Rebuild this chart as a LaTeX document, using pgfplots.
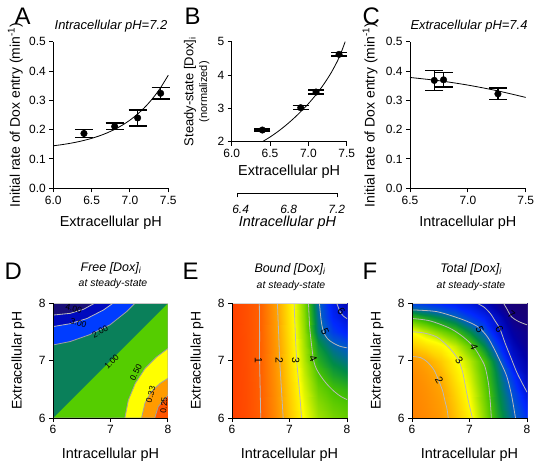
\documentclass[border=0pt]{standalone}
\usepackage{fontspec}
\setmainfont{Liberation Sans}
\usepackage{pgfplots}
\pgfplotsset{compat=1.18}

\definecolor{d0}{RGB}{255,85,0}
\definecolor{d1}{RGB}{255,155,0}
\definecolor{d2}{RGB}{255,255,0}
\definecolor{d3}{RGB}{85,205,0}
\definecolor{d4}{RGB}{10,128,90}
\definecolor{d5}{RGB}{0,60,255}
\definecolor{d6}{RGB}{0,10,190}
\definecolor{d7}{RGB}{25,15,120}
\definecolor{cline}{RGB}{160,160,160}
\definecolor{eline}{RGB}{185,185,185}

\pgfplotsset{
  colormap={ef}{rgb255(0cm)=(255,45,0); rgb255(1cm)=(255,95,0); rgb255(2cm)=(255,165,0);
    rgb255(3cm)=(255,255,0); rgb255(3.5cm)=(160,225,0); rgb255(4cm)=(70,195,0);
    rgb255(4.5cm)=(0,140,70); rgb255(5cm)=(0,90,200); rgb255(5.5cm)=(0,40,255);
    rgb255(6cm)=(0,20,210); rgb255(6.5cm)=(0,0,170); rgb255(7cm)=(20,0,130); rgb255(8cm)=(30,0,100)},
  panel/.style={
    scale only axis, anchor=south west,
    axis x line*=bottom, axis y line*=left,
    axis line style={line width=1bp, -},
    tick align=outside, major tick length=4bp,
    tick style={line width=1bp, black},
    tick label style={font=\fontsize{12}{14}\selectfont},
  },
  xlab/.style={every axis x label/.style={at={([yshift=-#1]axis description cs:0.5,0)}, anchor=center, font=\fontsize{14.5}{17}\selectfont}},
  ylab/.style={every axis y label/.style={at={([xshift=-#1]axis description cs:0,0.5)}, anchor=center, rotate=90, font=\fontsize{14}{17}\selectfont}},
  ebar/.style={black, only marks, mark=*, mark size=3.3bp, mark options={fill=black},
    error bars/.cd, y dir=both, y explicit,
    error bar style={line width=1.5bp, black},
    error mark options={rotate=90, mark size=#1, line width=1.5bp, black}},
}

\begin{document}
\begin{tikzpicture}
\path[use as bounding box] (0,0) rectangle (537bp,463bp);

% ---------------- Panel letters and titles
\begin{scope}[font=\fontsize{24}{28}\selectfont]
\node[anchor=base west] at (11bp,438bp) {A};
\node[anchor=base west] at (181bp,438bp) {B};
\node[anchor=base west] at (359bp,438bp) {C};
\node[anchor=base west] at (1bp,183bp) {D};
\node[anchor=base west] at (179bp,183bp) {E};
\node[anchor=base west] at (359bp,183bp) {F};
\end{scope}
\node[font=\fontsize{13}{15}\selectfont\itshape] at (111bp,437bp) {Intracellular pH=7.2};
\node[font=\fontsize{13}{15}\selectfont\itshape] at (469bp,437bp) {Extracellular pH=7.4};

\node[font=\fontsize{12.5}{15}\selectfont\itshape] at (111bp,195bp) {Free [Dox]\textsubscript{i}};
\node[font=\fontsize{10.5}{12}\selectfont\itshape] at (113bp,179bp) {at steady-state};
\node[font=\fontsize{12.5}{15}\selectfont\itshape] at (290bp,194bp) {Bound [Dox]\textsubscript{i}};
\node[font=\fontsize{10.5}{12}\selectfont\itshape] at (291bp,177bp) {at steady-state};
\node[font=\fontsize{12.5}{15}\selectfont\itshape] at (471bp,194bp) {Total [Dox]\textsubscript{i}};
\node[font=\fontsize{10.5}{12}\selectfont\itshape] at (471bp,177bp) {at steady-state};

% ---------------- A
\begin{axis}[panel, clip=false, at={(53.3bp,274.7bp)}, width=115bp, height=146.6bp,
  xmin=6, xmax=7.5, ymin=0, ymax=0.5,
  xtick={6,6.5,7,7.5}, xticklabels={6.0,6.5,7.0,7.5},
  ytick={0,0.1,0.2,0.3,0.4,0.5}, yticklabels={0.0,0.1,0.2,0.3,0.4,0.5},
  xlab=34bp, ylab=38bp,
  xlabel={Extracellular pH}, ylabel={Initial rate of Dox entry (min\textsuperscript{-1})}]
\addplot[black, line width=0.8bp, smooth] coordinates {
 (6.0,0.1450) (6.1,0.1484) (6.2,0.1525) (6.3,0.1574) (6.4,0.1633) (6.5,0.1703)
 (6.6,0.1787) (6.7,0.1888) (6.8,0.2009) (6.9,0.2153) (7.0,0.2326) (7.1,0.2533)
 (7.2,0.2781) (7.3,0.3078) (7.4,0.3434) (7.5,0.3859)};
\addplot[ebar=9bp] coordinates {
 (6.4,0.187) +- (0,0.013)
 (6.8,0.211) +- (0,0.011)
 (7.1,0.240) +- (0,0.027)
 (7.4,0.324) +- (0,0.020)};
\end{axis}

% ---------------- B
\begin{axis}[panel, clip=false, at={(231.7bp,321.3bp)}, width=115bp, height=100bp,
  xmin=6, xmax=7.5, ymin=2, ymax=5,
  xtick={6,6.5,7,7.5}, xticklabels={6.0,6.5,7.0,7.5},
  ytick={2,3,4,5}, yticklabels={2,3,4,5},
  xlab=30bp, ylab=35bp,
  xlabel={Extracellular pH},
  ylabel={{\fontsize{13}{15}\selectfont Steady-state [Dox]\textsubscript{i}}\\[-3pt]{\fontsize{11}{12}\selectfont (normalized)}},
  ylabel style={align=center}]
\addplot[black, line width=0.8bp, smooth] coordinates {
 (6.4,2.00) (6.5,2.14) (6.6,2.30) (6.7,2.48) (6.8,2.68) (6.9,2.90) (7.0,3.14)
 (7.1,3.41) (7.2,3.72) (7.3,4.08) (7.4,4.52) (7.48,5.0)};
\addplot[ebar=8bp] coordinates {
 (6.4,2.35) +- (0,0.03)
 (6.9,3.02) +- (0,0.06)
 (7.1,3.49) +- (0,0.06)
 (7.4,4.62) +- (0,0.05)};
\end{axis}

% secondary axis under B
\begin{axis}[scale only axis, anchor=south west, at={(237bp,269.7bp)}, width=101bp, height=10bp,
  xmin=6.37, xmax=7.21, ymin=0, ymax=1,
  axis x line*=bottom, hide y axis,
  axis line style={line width=1bp, -},
  xtick={6.4,6.8,7.2}, xticklabels={\itshape 6.4,\itshape 6.8,\itshape 7.2},
  major tick length=0pt,
  extra x ticks={6.37,7.21}, extra x tick labels={},
  extra x tick style={major tick length=4bp, tick align=outside, tick style={line width=1bp, black}},
  tick label style={font=\fontsize{12}{14}\selectfont},
  xticklabel style={yshift=-8bp},
  xlab=29bp,
  xlabel={\itshape Intracellular pH}]
\addplot[draw=none] coordinates {(6.5,0.5)};
\end{axis}

% ---------------- C
\begin{axis}[panel, clip=false, at={(410bp,274.7bp)}, width=115.7bp, height=146.6bp,
  xmin=6.5, xmax=7.5, ymin=0, ymax=0.5,
  xtick={6.5,7,7.5}, xticklabels={6.5,7.0,7.5},
  ytick={0,0.1,0.2,0.3,0.4,0.5}, yticklabels={0.0,0.1,0.2,0.3,0.4,0.5},
  xlab=34bp, ylab=40bp,
  xlabel={Intracellular pH}, ylabel={Initial rate of Dox entry (min\textsuperscript{-1})}]
\addplot[black, line width=0.8bp, smooth] coordinates {
 (6.5,0.378) (6.75,0.367) (7.0,0.352) (7.25,0.333) (7.5,0.310)};
\addplot[ebar=9bp] coordinates {
 (6.71,0.368) +- (0,0.034)
 (6.79,0.370) +- (0,0.025)
 (7.26,0.322) +- (0,0.020)};
\end{axis}

% ---------------- D
\begin{axis}[panel, at={(53bp,45bp)}, width=115bp, height=115bp,
  xmin=6, xmax=8, ymin=6, ymax=8, xtick={6,7,8}, ytick={6,7,8},
  xticklabels={6,7,8}, yticklabels={6,7,8},
  xlab=37bp, ylab=35bp, axis on top,
  xlabel={Intracellular pH}, ylabel={Extracellular pH}]
\addplot[draw=none, fill=d0] coordinates {(6,6) (8,6) (8,8) (6,8)};
\addplot[draw=cline, line width=0.8bp, fill=d1] coordinates {(6,6) (7.77,6) (7.83,6.20) (7.92,6.31) (8,6.40) (8,8) (6,8)};
\addplot[draw=cline, line width=0.8bp, fill=d2] coordinates {(6,6) (7.54,6) (7.60,6.26) (7.71,6.46) (7.86,6.60) (8,6.69) (8,8) (6,8)};
\addplot[draw=cline, line width=0.8bp, fill=d3] coordinates {(6,6) (7.25,6) (7.31,6.31) (7.43,6.60) (7.60,6.86) (7.80,7.06) (8,7.21) (8,8) (6,8)};
\addplot[draw=none, fill=d4] coordinates {(6,6) (8,8) (6,8)};
\addplot[draw=cline, line width=0.8bp, fill=d5] coordinates {(6,7.27) (6.30,7.33) (6.64,7.45) (6.99,7.62) (7.28,7.85) (7.43,8) (6,8)};
\addplot[draw=cline!70!white, line width=0.8bp, fill=d6] coordinates {(6,7.59) (6.30,7.64) (6.59,7.73) (6.88,7.88) (7.05,8) (6,8)};
\addplot[draw=cline!70!white, line width=0.8bp, fill=d7] coordinates {(6,7.79) (6.30,7.82) (6.53,7.89) (6.73,8) (6,8)};
\addplot[draw=cline!60!white, line width=0.8bp] coordinates {(6,8) (8,8) (8,6)};
\begin{scope}[font=\fontsize{8.5}{9}\selectfont, inner sep=0pt]
\node[rotate=-12] at (axis cs:6.36,7.90) {4.00};
\node[rotate=-18] at (axis cs:6.44,7.65) {3.00};
\node[rotate=28] at (axis cs:6.82,7.50) {2.00};
\node[rotate=45] at (axis cs:7.02,6.98) {1.00};
\node[rotate=62] at (axis cs:7.44,6.79) {0.50};
\node[rotate=75] at (axis cs:7.70,6.41) {0.33};
\node[rotate=85] at (axis cs:7.93,6.22) {0.25};
\end{scope}
\end{axis}

% ---------------- E
\begin{axis}[panel, at={(232bp,45bp)}, width=115bp, height=115bp,
  xmin=6, xmax=8, ymin=6, ymax=8, xtick={6,7,8}, ytick={6,7,8},
  xticklabels={6,7,8}, yticklabels={6,7,8},
  xlab=37bp, ylab=35bp, axis on top,
  colormap name=ef, point meta min=0, point meta max=8,
  xlabel={Intracellular pH}, ylabel={Extracellular pH}]
\addplot[surf, shader=interp, mesh/rows=9, mesh/cols=9, point meta=explicit] table[meta=z, row sep=\\] {
x y z\\
6 6 0.40\\ 6.25 6 0.61\\ 6.5 6 1.00\\ 6.75 6 1.60\\ 7 6 2.33\\ 7.25 6 3.02\\ 7.5 6 3.50\\ 7.75 6 3.72\\ 8 6 3.82\\
6 6.25 0.40\\ 6.25 6.25 0.62\\ 6.5 6.25 1.02\\ 6.75 6.25 1.64\\ 7 6.25 2.38\\ 7.25 6.25 3.10\\ 7.5 6.25 3.62\\ 7.75 6.25 3.85\\ 8 6.25 3.95\\
6 6.5 0.40\\ 6.25 6.5 0.63\\ 6.5 6.5 1.03\\ 6.75 6.5 1.68\\ 7 6.5 2.44\\ 7.25 6.5 3.20\\ 7.5 6.5 3.78\\ 7.75 6.5 4.02\\ 8 6.5 4.15\\
6 6.75 0.40\\ 6.25 6.75 0.64\\ 6.5 6.75 1.04\\ 6.75 6.75 1.72\\ 7 6.75 2.50\\ 7.25 6.75 3.30\\ 7.5 6.75 3.95\\ 7.75 6.75 4.30\\ 8 6.75 4.45\\
6 7 0.40\\ 6.25 7 0.65\\ 6.5 7 1.05\\ 6.75 7 1.75\\ 7 7 2.55\\ 7.25 7 3.40\\ 7.5 7 4.20\\ 7.75 7 4.55\\ 8 7 4.75\\
6 7.25 0.40\\ 6.25 7.25 0.66\\ 6.5 7.25 1.05\\ 6.75 7.25 1.78\\ 7 7.25 2.60\\ 7.25 7.25 3.48\\ 7.5 7.25 4.40\\ 7.75 7.25 4.85\\ 8 7.25 5.05\\
6 7.5 0.40\\ 6.25 7.5 0.67\\ 6.5 7.5 1.06\\ 6.75 7.5 1.82\\ 7 7.5 2.65\\ 7.25 7.5 3.55\\ 7.5 7.5 4.70\\ 7.75 7.5 5.30\\ 8 7.5 5.60\\
6 7.75 0.40\\ 6.25 7.75 0.675\\ 6.5 7.75 1.07\\ 6.75 7.75 1.85\\ 7 7.75 2.69\\ 7.25 7.75 3.62\\ 7.5 7.75 4.80\\ 7.75 7.75 5.60\\ 8 7.75 6.00\\
6 8 0.40\\ 6.25 8 0.68\\ 6.5 8 1.08\\ 6.75 8 1.88\\ 7 8 2.72\\ 7.25 8 3.68\\ 7.5 8 4.90\\ 7.75 8 5.78\\ 8 8 6.40\\
};
\addplot[eline, line width=0.8bp, smooth] coordinates {(6.475,8) (6.48,7.5) (6.48,7.0) (6.49,6.5) (6.50,6.0)};
\addplot[eline, line width=0.8bp, smooth] coordinates {(6.79,8) (6.81,7.5) (6.83,7.0) (6.86,6.5) (6.89,6.0)};
\addplot[eline, line width=0.8bp, smooth] coordinates {(7.08,8) (7.10,7.5) (7.125,7.0) (7.17,6.5) (7.21,6.0)};
\addplot[eline, line width=0.8bp, smooth] coordinates {(7.33,8) (7.35,7.6) (7.38,7.3) (7.42,7.0) (7.47,6.85) (7.55,6.72) (7.65,6.59) (7.78,6.46) (7.9,6.37) (8,6.32)};
\addplot[eline, line width=0.8bp, smooth] coordinates {(7.52,8) (7.55,7.7) (7.59,7.5) (7.66,7.38) (7.75,7.31) (7.87,7.25) (8,7.22)};
\addplot[eline, line width=0.8bp, smooth] coordinates {(7.82,8) (7.88,7.85) (7.94,7.77) (8,7.73)};
\addplot[eline!60!white, line width=0.8bp] coordinates {(6,8) (8,8) (8,6)};
\begin{scope}[font=\fontsize{10.5}{11}\selectfont]
\node[rotate=-90] at (axis cs:6.46,7.0) {1};
\node[rotate=-90] at (axis cs:6.82,7.0) {2};
\node[rotate=-90] at (axis cs:7.11,7.0) {3};
\node[rotate=-65] at (axis cs:7.41,7.03) {4};
\node[rotate=-65] at (axis cs:7.62,7.51) {5};
\node[rotate=-50] at (axis cs:7.90,7.86) {6};
\end{scope}
\end{axis}

% ---------------- F
\begin{axis}[panel, at={(412bp,45bp)}, width=115bp, height=115bp,
  xmin=6, xmax=8, ymin=6, ymax=8, xtick={6,7,8}, ytick={6,7,8},
  xticklabels={6,7,8}, yticklabels={6,7,8},
  xlab=37bp, ylab=35bp, axis on top,
  colormap name=ef, point meta min=0, point meta max=8,
  xlabel={Intracellular pH}, ylabel={Extracellular pH}]
\addplot[surf, shader=interp, mesh/rows=9, mesh/cols=9, point meta=explicit] table[meta=z, row sep=\\] {
x y z\\
6 6 1.50\\ 6.25 6 1.62\\ 6.5 6 1.82\\ 6.75 6 2.30\\ 7 6 2.88\\ 7.25 6 3.60\\ 7.5 6 4.30\\ 7.75 6 4.90\\ 8 6 5.40\\
6 6.25 1.52\\ 6.25 6.25 1.66\\ 6.5 6.25 1.88\\ 6.75 6.25 2.40\\ 7 6.25 3.00\\ 7.25 6.25 3.70\\ 7.5 6.25 4.40\\ 7.75 6.25 5.00\\ 8 6.25 5.65\\
6 6.5 1.56\\ 6.25 6.5 1.72\\ 6.5 6.5 1.98\\ 6.75 6.5 2.55\\ 7 6.5 3.12\\ 7.25 6.5 3.80\\ 7.5 6.5 4.50\\ 7.75 6.5 5.20\\ 8 6.5 6.05\\
6 6.75 1.62\\ 6.25 6.75 1.82\\ 6.5 6.75 2.15\\ 6.75 6.75 2.72\\ 7 6.75 3.25\\ 7.25 6.75 3.90\\ 7.5 6.75 4.60\\ 7.75 6.75 5.45\\ 8 6.75 6.30\\
6 7 1.75\\ 6.25 7 2.00\\ 6.5 7 2.42\\ 6.75 7 2.90\\ 7 7 3.40\\ 7.25 7 3.98\\ 7.5 7 4.80\\ 7.75 7 6.00\\ 8 7 6.50\\
6 7.25 2.40\\ 6.25 7.25 2.65\\ 6.5 7.25 2.90\\ 6.75 7.25 3.30\\ 7 7.25 3.85\\ 7.25 7.25 4.50\\ 7.5 7.25 5.35\\ 7.75 7.25 6.30\\ 8 7.25 6.80\\
6 7.5 3.00\\ 6.25 7.5 3.35\\ 6.5 7.5 3.70\\ 6.75 7.5 4.00\\ 7 7.5 4.50\\ 7.25 7.5 5.00\\ 7.5 7.5 5.90\\ 7.75 7.5 6.60\\ 8 7.5 6.90\\
6 7.75 4.10\\ 6.25 7.75 4.35\\ 6.5 7.75 4.60\\ 6.75 7.75 4.85\\ 7 7.75 5.30\\ 7.25 7.75 5.65\\ 7.5 7.75 6.20\\ 7.75 7.75 7.00\\ 8 7.75 7.30\\
6 8 5.25\\ 6.25 8 5.40\\ 6.5 8 5.55\\ 6.75 8 5.70\\ 7 8 5.90\\ 7.25 8 6.30\\ 7.5 8 6.85\\ 7.75 8 7.35\\ 8 8 7.60\\
};
\addplot[eline, line width=0.8bp, smooth] coordinates {(6,7.07) (6.15,7.05) (6.26,6.98) (6.38,6.84) (6.46,6.66) (6.53,6.48) (6.57,6.31) (6.61,6.15) (6.63,6.0)};
\addplot[eline, line width=0.8bp, smooth] coordinates {(6,7.50) (6.2,7.48) (6.43,7.41) (6.62,7.25) (6.75,7.1) (6.81,7.01) (6.88,6.8) (6.92,6.60) (6.98,6.3) (7.05,6.0)};
\addplot[eline, line width=0.8bp, smooth] coordinates {(6,7.73) (6.31,7.69) (6.66,7.56) (6.89,7.41) (7.07,7.24) (7.18,7.07) (7.27,6.89) (7.33,6.6) (7.36,6.3) (7.38,6.0)};
\addplot[eline, line width=0.8bp, smooth] coordinates {(6,7.88) (6.43,7.85) (6.83,7.73) (7.05,7.64) (7.18,7.56) (7.32,7.4) (7.44,7.18) (7.55,6.95) (7.65,6.72) (7.73,6.4) (7.8,6.0)};
\addplot[eline, line width=0.8bp, smooth] coordinates {(7.12,8) (7.25,7.93) (7.36,7.82) (7.45,7.68) (7.53,7.55) (7.62,7.3) (7.72,7.05) (7.82,6.8) (7.92,6.6) (8,6.45)};
\addplot[eline, line width=0.8bp, smooth] coordinates {(7.59,8) (7.66,7.88) (7.73,7.76) (7.85,7.68) (8,7.62)};
\addplot[eline!60!white, line width=0.8bp] coordinates {(6,8) (8,8) (8,6)};
\begin{scope}[font=\fontsize{10.5}{11}\selectfont]
\node[rotate=-60] at (axis cs:6.475,6.66) {2};
\node[rotate=-50] at (axis cs:6.82,7.01) {3};
\node[rotate=-70] at (axis cs:7.08,7.24) {4};
\node[rotate=-65] at (axis cs:7.18,7.54) {5};
\node[rotate=-60] at (axis cs:7.52,7.54) {6};
\node[rotate=-40] at (axis cs:7.73,7.79) {7};
\end{scope}
\end{axis}
\end{tikzpicture}
\end{document}
